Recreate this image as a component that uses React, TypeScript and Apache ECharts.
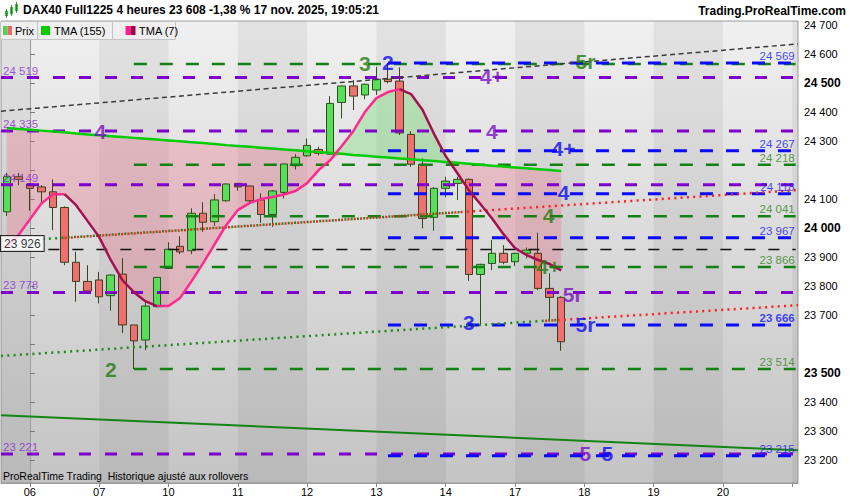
import React, { useEffect, useRef } from "react";
import * as echarts from "echarts";

const FONT = "'Liberation Sans', Arial, Helvetica, sans-serif";

// ---- x axis: 4-hour slots, 6 per day; slot 0 = first candle of the 6th ----
const dayLabels = ["05", "06", "07", "10", "11", "12", "13", "14", "17", "18", "19", "20", "21"];
const firstSlot = -2;
const lastSlot = 66;

// ---- candles (slots -2 .. 46) ----
const opens = [24056, 24177, 24152, 24142, 24125, 24071, 23882, 23816, 23821, 23767, 23841, 23666, 23614, 23729, 23861, 23937, 23922, 24051, 24022, 24094, 24154, 24145, 24097, 24047, 24123, 24215, 24249, 24271, 24255, 24433, 24490, 24459, 24476, 24513, 24507, 24323, 24220, 24037, 24137, 24154, 24168, 23840, 23878, 23913, 23884, 23913, 23913, 23792, 23761];
const closes = [24177, 24168, 24137, 24125, 24071, 23882, 23816, 23783, 23763, 23838, 23666, 23611, 23731, 23830, 23927, 23918, 24051, 24020, 24097, 24152, 24142, 24094, 24047, 24128, 24221, 24244, 24285, 24258, 24430, 24490, 24455, 24496, 24513, 24505, 24328, 24220, 24033, 24137, 24162, 24168, 23840, 23875, 23913, 23882, 23913, 23924, 23792, 23761, 23608];
const lows = [24042, 24148, 24060, 24085, 23993, 23872, 23746, 23780, 23740, 23715, 23638, 23514, 23579, 23727, 23859, 23910, 23910, 23987, 24008, 24091, 24129, 24083, 24018, 24004, 24102, 24202, 24246, 24251, 24253, 24378, 24407, 24444, 24459, 24499, 24321, 24211, 23999, 23991, 24106, 24097, 23818, 23666, 23855, 23875, 23869, 23895, 23786, 23683, 23577];
const highs = [24191, 24190, 24155, 24148, 24168, 24075, 23918, 23872, 23849, 23840, 23896, 23666, 23746, 23832, 23951, 23972, 24068, 24089, 24117, 24154, 24156, 24147, 24120, 24131, 24223, 24255, 24309, 24280, 24455, 24492, 24510, 24498, 24556, 24569, 24554, 24334, 24240, 24142, 24177, 24177, 24171, 23877, 23959, 23941, 23915, 23933, 23984, 23844, 23765];

// ---- moving averages (slots -2 .. 46) ----
const tma7 = [23935, 23975, 24030, 24085, 24117, 24117, 24079, 24024, 23969, 23890, 23821, 23779, 23748, 23731, 23731, 23759, 23817, 23879, 23945, 24010, 24062, 24086, 24100, 24107, 24116, 24128, 24155, 24200, 24234, 24283, 24334, 24400, 24448, 24469, 24479, 24462, 24407, 24324, 24248, 24190, 24131, 24083, 24034, 23979, 23931, 23907, 23890, 23876, 23854];
const tma155 = [24345, 24342, 24339, 24336, 24333, 24330, 24326, 24323, 24320, 24317, 24314, 24311, 24308, 24305, 24302, 24299, 24296, 24293, 24290, 24286, 24283, 24280, 24277, 24274, 24271, 24268, 24265, 24262, 24259, 24256, 24252, 24249, 24246, 24243, 24240, 24237, 24234, 24231, 24228, 24225, 24222, 24218, 24215, 24212, 24209, 24206, 24203, 24200, 24197];

// ---- horizontal levels ----
const purpleLevels = [24519, 24335, 24149, 23778, 23221];
const greenLevels = [24566, 24218, 24041, 23866, 23514];
const greenLabelled = [24218, 24041, 23866, 23514];
const blueLevels = [24569, 24267, 24118, 23967, 23666, 23215];
const pivotLevel = 23926;
const lastPrice = 23608;
const lastTma7 = 23854;
const lastTma155 = 24197;

// ---- trend lines: [slot, value] end points ----
const upperTrend = [[-2.5, 24403], [66.5, 24635]];
const redUpper = [[3.0, 23966], [66.5, 24131]];
const greenUpper = [[1.1, 23962], [37.2, 24055]];
const greenLower = [[-2.5, 23559], [45.6, 23683]];
const redLower = [[44.6, 23680], [66.5, 23734]];
const channelLow = [[-2.5, 23355], [66.5, 23234]];

// ---- wave annotations ----
const waveText = ["3", "2", "4+", "5r", "4", "4", "4+", "4", "4", "4+", "5r", "3", "5r", "2", "5", "5"];
const waveSlot = [29.0, 31.0, 40.0, 48.1, 6.1, 40.0, 46.2, 46.2, 44.9, 44.9, 47.0, 38.0, 48.1, 7.0, 48.1, 50.0];
const waveValue = [24569, 24572, 24524, 24576, 24334, 24334, 24276, 24124, 24045, 23866, 23772, 23676, 23666, 23514, 23224, 23224];
const waveColor = ["g", "b", "p", "g", "p", "p", "b", "b", "g", "g", "p", "b", "b", "g", "p", "b"];

const COLORS: Record<string, string> = { p: "#7a10c4", b: "#0c0cf0", g: "#237a10" };
const PURPLE = "#7e00cc";
const GREEN_D = "#128012";
const BLUE = "#0a0aff";

function fmt(v: number) {
  return Math.round(v).toString().replace(/\B(?=(\d{3})+(?!\d))/g, " ");
}

export default function App() {
  const ref = useRef<HTMLDivElement>(null);
  useEffect(() => {
    const chart = echarts.init(ref.current!, null, { renderer: "svg" });

    const slots: number[] = [];
    for (let s = firstSlot; s <= lastSlot; s++) slots.push(s);
    const categories = slots.map((s) => ((s + 6) % 6 === 0 ? dayLabels[Math.floor((s + 6) / 6)] : ""));
    const lastIndex = categories.length - 1;

    const candleData = opens.map((o, i) => [o, closes[i], lows[i], highs[i]]);
    const n = tma7.length;
    const base = tma7.map((v, i) => Math.min(v, tma155[i]));
    const pinkD = tma7.map((v, i) => (v < tma155[i] ? tma155[i] - v : 0));
    const greenD = tma7.map((v, i) => (v > tma155[i] ? v - tma155[i] : 0));
    const rise = tma7.map((v, i) =>
      (i < n - 1 && tma7[i + 1] >= v) || (i > 0 && v >= tma7[i - 1]) ? v : null
    );
    const fall = tma7.map((v, i) =>
      (i < n - 1 && tma7[i + 1] < v) || (i > 0 && v < tma7[i - 1]) ? v : null
    );

    // day background bands (every other day darker)
    const bands: any[] = [];
    dayLabels.forEach((_, d) => {
      if (d % 2 === 0) {
        const a = Math.max(-2.5, d * 6 - 6);
        const b = Math.min(66.5, d * 6);
        bands.push([{ xAxis: a }, { xAxis: b }]);
      }
    });

    // axis labels hidden behind the value boxes
    const boxed = [lastTma155, lastPrice];

    const END = 66.3;
    const levelSeries = (vals: number[], start: number, color: string, width: number, dash: number[]) =>
      vals.map((v) => ({
        type: "line",
        xAxisIndex: 1,
        yAxisIndex: 0,
        data: [[start, v], [END, v]],
        symbol: "none",
        silent: true,
        z: 4,
        lineStyle: { color, width, type: dash, cap: "butt" },
      }));

    const trend = (pts: number[][], color: string, width: number, dash: any, z = 4) => ({
      type: "line",
      xAxisIndex: 1,
      yAxisIndex: 0,
      data: pts,
      symbol: "none",
      silent: true,
      z,
      lineStyle: { color, width, type: dash, cap: "butt" },
    });

    const rightLabels = [
      ...blueLevels.map((v) => ({ v, c: "#1414f5", w: v === 23666 ? "bold" : "normal" })),
      ...greenLabelled.map((v) => ({ v, c: "#2f8420", w: "normal" })),
    ];

    const option: any = {
      animation: false,
      grid: {
        left: 1,
        right: 52,
        top: 21,
        bottom: 17,
        show: true,
        borderColor: "#9c9c9c",
        borderWidth: 1,
        backgroundColor: new echarts.graphic.LinearGradient(0, 0, 0, 1, [
          { offset: 0, color: "#f0f0f0" },
          { offset: 1, color: "#c4c4c4" },
        ]),
      },
      xAxis: [
        {
          type: "category",
          data: categories,
          boundaryGap: true,
          axisLine: { show: true, lineStyle: { color: "#9c9c9c" } },
          axisTick: {
            show: true,
            alignWithLabel: true,
            length: 4,
            interval: (i: number, v: string) => v !== "",
            lineStyle: { color: "#888" },
          },
          axisLabel: {
            interval: (i: number, v: string) => v !== "" && i < lastIndex,
            color: "#000",
            fontSize: 11,
            fontFamily: FONT,
            margin: 3,
          },
          splitLine: { show: false },
        },
        { type: "value", min: -2.5, max: 66.5, show: false },
      ],
      yAxis: {
        type: "value",
        position: "right",
        min: 23121,
        max: 24714,
        splitNumber: 16,
        minInterval: 100,
        maxInterval: 100,
        axisLine: { show: true, lineStyle: { color: "#9c9c9c" } },
        axisTick: { show: true, length: 5, lineStyle: { color: "#777" } },
        splitLine: { show: false },
        axisLabel: {
          showMinLabel: false,
          showMaxLabel: false,
          margin: 6,
          color: "#000",
          fontSize: 11,
          fontFamily: FONT,
          formatter: (v: number) => {
            if (boxed.some((b) => Math.abs(b - v) < 25)) return "";
            return v % 500 === 0 ? `{b|${fmt(v)}}` : fmt(v);
          },
          rich: { b: { fontWeight: "bold", fontSize: 12, fontFamily: FONT, color: "#000" } },
        },
      },
      graphic: [
        // header
        { type: "rect", shape: { x: 5, y: 11, width: 3, height: 5 }, style: { fill: "#3cc43c" } },
        { type: "rect", shape: { x: 6.2, y: 9, width: 0.8, height: 9 }, style: { fill: "#2a6a2a" } },
        { type: "rect", shape: { x: 10, y: 7, width: 3, height: 7 }, style: { fill: "#3cc43c" } },
        { type: "rect", shape: { x: 11.2, y: 5, width: 0.8, height: 11 }, style: { fill: "#2a6a2a" } },
        { type: "rect", shape: { x: 15, y: 4, width: 3, height: 7 }, style: { fill: "#3cc43c" } },
        { type: "rect", shape: { x: 16.2, y: 2, width: 0.8, height: 11 }, style: { fill: "#2a6a2a" } },
        {
          type: "text",
          x: 23,
          y: 10,
          style: {
            text: "DAX40 Full1225 4 heures 23 608 -1,38 % 17 nov. 2025, 19:05:21",
            fontFamily: FONT,
            fontSize: 12,
            fontWeight: "bold",
            fill: "#000",
            verticalAlign: "middle",
          },
        },
        {
          type: "text",
          x: 846,
          y: 11,
          style: {
            text: "Trading.ProRealTime.com",
            fontFamily: FONT,
            fontSize: 12,
            fontWeight: "bold",
            fill: "#000",
            align: "right",
            verticalAlign: "middle",
          },
        },
        // legend cells
        { type: "rect", z: 50, shape: { x: 0.5, y: 21.5, width: 37, height: 18 }, style: { fill: "#efefef", stroke: "#c4c4c4", lineWidth: 1 } },
        { type: "rect", z: 50, shape: { x: 37.5, y: 21.5, width: 75, height: 18 }, style: { fill: "#efefef", stroke: "#c4c4c4", lineWidth: 1 } },
        { type: "rect", z: 50, shape: { x: 112.5, y: 21.5, width: 63, height: 18 }, style: { fill: "#efefef", stroke: "#c4c4c4", lineWidth: 1 } },
        { type: "rect", z: 51, shape: { x: 3, y: 26, width: 4.5, height: 9 }, style: { fill: "#4fd64f" } },
        { type: "rect", z: 51, shape: { x: 7.5, y: 26, width: 4.5, height: 9 }, style: { fill: "#e86a6a" } },
        { type: "text", z: 51, x: 15, y: 31, style: { text: "Prix", fontFamily: FONT, fontSize: 11, fill: "#000", verticalAlign: "middle" } },
        { type: "rect", z: 51, shape: { x: 41, y: 26, width: 9, height: 9 }, style: { fill: "#00cc00" } },
        { type: "text", z: 51, x: 54, y: 31, style: { text: "TMA (155)", fontFamily: FONT, fontSize: 11, fill: "#000", verticalAlign: "middle" } },
        { type: "rect", z: 51, shape: { x: 125.5, y: 26, width: 5, height: 9 }, style: { fill: "#ff1f8c" } },
        { type: "rect", z: 51, shape: { x: 130.5, y: 26, width: 5, height: 9 }, style: { fill: "#a0004a" } },
        { type: "text", z: 51, x: 139, y: 31, style: { text: "TMA (7)", fontFamily: FONT, fontSize: 11, fill: "#000", verticalAlign: "middle" } },
        // footer note
        {
          type: "text",
          z: 51,
          x: 3,
          y: 476,
          style: {
            text: "ProRealTime Trading  Historique ajusté aux rollovers",
            fontFamily: FONT,
            fontSize: 10.5,
            fill: "#000",
            verticalAlign: "middle",
          },
        },
      ],
      series: [
        // day bands
        {
          type: "line",
          xAxisIndex: 1,
          yAxisIndex: 0,
          data: [[-2.5, 23121]],
          symbol: "none",
          silent: true,
          z: 1,
          lineStyle: { opacity: 0 },
          markArea: { silent: true, itemStyle: { color: "rgba(0,0,0,0.055)" }, data: bands },
        },
        // area between the two averages
        {
          type: "line",
          data: base,
          stack: "fill",
          symbol: "none",
          silent: true,
          z: 1,
          lineStyle: { opacity: 0 },
        },
        {
          type: "line",
          data: pinkD,
          stack: "fill",
          symbol: "none",
          silent: true,
          z: 1,
          lineStyle: { opacity: 0 },
          areaStyle: { color: "rgba(238,112,136,0.33)", opacity: 1 },
        },
        {
          type: "line",
          data: greenD,
          stack: "fill",
          symbol: "none",
          silent: true,
          z: 1,
          lineStyle: { opacity: 0 },
          areaStyle: { color: "rgba(110,225,110,0.36)", opacity: 1 },
        },
        // candles
        {
          type: "candlestick",
          data: candleData,
          barWidth: 8,
          z: 2,
          itemStyle: {
            color: "#58de58",
            color0: "#ee7070",
            borderColor: "#2c521c",
            borderColor0: "#3f3f1c",
            borderWidth: 1,
          },
        },
        // levels
        ...levelSeries(purpleLevels, -2.5, PURPLE, 3, [12, 14]),
        ...levelSeries(greenLevels, 9, GREEN_D, 2.5, [13, 13]),
        ...levelSeries(blueLevels, 31, BLUE, 3, [13, 13]),
        ...levelSeries([pivotLevel], 1.6, "#111", 1.5, [11, 13]),
        // trend lines
        trend(upperTrend, "#3c3c3c", 1.5, [5, 3.5]),
        trend(greenUpper, "#1b8a1b", 2.5, [2, 4.3]),
        trend(redUpper, "#ff2020", 2.5, [2, 4.3]),
        trend(greenLower, "#1b8a1b", 2.5, [2, 4.3]),
        trend(redLower, "#ff2020", 2.5, [2, 4.3]),
        trend(channelLow, "#148414", 2, "solid"),
        // TMA 155
        {
          type: "line",
          data: tma155,
          symbol: "none",
          silent: true,
          z: 5,
          lineStyle: { color: "#00cc00", width: 2.5 },
          markLine: {
            silent: true,
            symbol: "none",
            lineStyle: { opacity: 0, width: 0 },
            data: [
              { yAxis: lastTma155, label: { color: "#00b400", backgroundColor: "#c6c6c6", borderColor: "#a8a8a8" } },
              { yAxis: lastTma7, label: { color: "#a0105a", backgroundColor: "#c6c6c6", borderColor: "#a8a8a8" } },
              { yAxis: lastPrice, label: { color: "#000", backgroundColor: "#ffd400", borderColor: "#c8a000" } },
            ],
            label: {
              show: true,
              position: "end",
              distance: 5,
              formatter: (p: any) => fmt(p.value),
              fontFamily: FONT,
              fontSize: 11,
              borderWidth: 1,
              padding: [1, 3, 0, 3],
            },
          },
        },
        // TMA 7 rising / falling
        {
          type: "line",
          data: rise,
          symbol: "none",
          silent: true,
          z: 5,
          connectNulls: false,
          lineStyle: { color: "#ff2a8e", width: 2.5 },
        },
        {
          type: "line",
          data: fall,
          symbol: "none",
          silent: true,
          z: 5,
          connectNulls: false,
          lineStyle: { color: "#a3124f", width: 2.5 },
        },
        // left value labels
        {
          type: "scatter",
          xAxisIndex: 1,
          yAxisIndex: 0,
          symbolSize: 0,
          silent: true,
          z: 6,
          data: purpleLevels.map((v) => ({ value: [-2.5, v], name: fmt(v) })),
          label: {
            show: true,
            position: "right",
            distance: 2,
            offset: [0, -7],
            formatter: "{b}",
            color: "#8a2cd0",
            fontFamily: FONT,
            fontSize: 11.5,
          },
        },
        {
          type: "scatter",
          xAxisIndex: 1,
          yAxisIndex: 0,
          symbolSize: 0,
          silent: true,
          z: 7,
          data: [{ value: [-2.5, pivotLevel], name: fmt(pivotLevel) }],
          label: {
            show: true,
            position: "right",
            distance: 0,
            offset: [0, -6],
            formatter: "{b}",
            color: "#000",
            fontFamily: FONT,
            fontSize: 12,
            backgroundColor: "#fff",
            borderColor: "#000",
            borderWidth: 1,
            padding: [2, 3, 1, 3],
          },
        },
        // right value labels
        {
          type: "scatter",
          xAxisIndex: 1,
          yAxisIndex: 0,
          symbolSize: 0,
          silent: true,
          z: 6,
          data: rightLabels.map((r) => ({
            value: [END, r.v],
            name: fmt(r.v),
            label: { color: r.c, fontWeight: r.w },
          })),
          label: {
            show: true,
            position: "left",
            distance: 1,
            offset: [0, -7],
            formatter: "{b}",
            fontFamily: FONT,
            fontSize: 11.5,
          },
        },
        // wave annotations
        {
          type: "scatter",
          xAxisIndex: 1,
          yAxisIndex: 0,
          symbolSize: 0,
          silent: true,
          z: 8,
          data: waveText.map((t, i) => ({
            value: [waveSlot[i], waveValue[i]],
            name: t,
            label: { color: COLORS[waveColor[i]] },
          })),
          label: {
            show: true,
            position: "inside",
            formatter: "{b}",
            fontFamily: FONT,
            fontSize: 21,
            fontWeight: "bold",
          },
        },
      ],
    };

    chart.setOption(option);
    return () => chart.dispose();
  }, []);

  return (
    <div
      ref={ref}
      style={{ position: "fixed", left: 0, top: 0, width: 850, height: 500, background: "#fff" }}
    />
  );
}
